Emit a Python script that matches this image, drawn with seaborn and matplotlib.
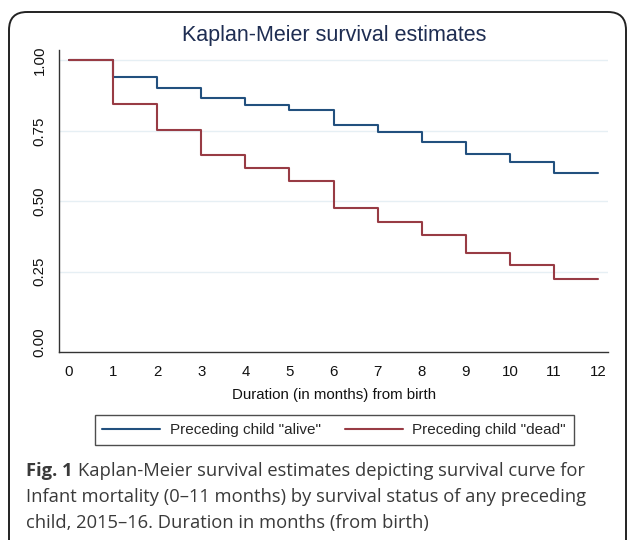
import seaborn as sns
import matplotlib.pyplot as plt
import pandas as pd
from matplotlib.patches import FancyBboxPatch

# survival estimates (value held from each month to the next)
months = list(range(0, 13))
alive = [1.00, 0.941, 0.901, 0.865, 0.842, 0.823, 0.772, 0.746, 0.712, 0.668, 0.639, 0.601, 0.601]
dead = [1.00, 0.844, 0.752, 0.665, 0.617, 0.572, 0.477, 0.428, 0.381, 0.317, 0.274, 0.223, 0.223]
groups = ['Preceding child "alive"', 'Preceding child "dead"']
colors = ["#22507e", "#983b44"]
yticks = [0.00, 0.25, 0.50, 0.75, 1.00]

df = pd.concat([
    pd.DataFrame({"month": months, "surv": alive, "group": groups[0]}),
    pd.DataFrame({"month": months, "surv": dead, "group": groups[1]}),
])

sns.set_style("white")
plt.rcParams["font.family"] = ["Liberation Sans", "DejaVu Sans"]

fig = plt.figure(figsize=(6.27, 5.4), dpi=100)

# outer rounded frame, drawn in pixel units
bg = fig.add_axes([0, 0, 1, 1])
bg.set_xlim(0, 627)
bg.set_ylim(540, 0)
bg.axis("off")
bg.add_patch(FancyBboxPatch((9, 12), 617, 560, boxstyle="round,pad=0,rounding_size=18",
                            fill=False, edgecolor="#222222", linewidth=1.4))

ax = fig.add_axes([0.094, 0.348, 0.876, 0.559])
sns.lineplot(data=df, x="month", y="surv", hue="group", palette=colors,
             drawstyle="steps-post", linewidth=1.5, ax=ax, legend=False)

ax.set_xlim(-0.23, 12.23)
ax.set_ylim(-0.035, 1.036)
ax.set_xticks(months)
ax.set_yticks(yticks)
ax.set_yticklabels([f"{v:.2f}" for v in yticks], rotation=90, va="center")
for v in yticks[1:]:
    ax.axhline(v, color="#e6eff4", linewidth=1.0, zorder=0)
ax.tick_params(axis="both", direction="out", length=4, width=1, color="#333333",
               labelsize=10.8, labelcolor="#111111", pad=5)
for s in ["top", "right"]:
    ax.spines[s].set_visible(False)
for s in ["left", "bottom"]:
    ax.spines[s].set_color("#333333")
    ax.spines[s].set_linewidth(1.0)
ax.set_xlabel("Duration (in months) from birth", fontsize=10.8, color="#111111", labelpad=7)
ax.set_ylabel("")

fig.text(0.533, 0.935, "Kaplan-Meier survival estimates", ha="center", va="center",
         fontsize=15.5, color="#1e2d52")

handles = [plt.Line2D([], [], color=c, linewidth=1.5) for c in colors]
leg = fig.legend(handles, groups, loc="center", bbox_to_anchor=(0.533, 0.2037), ncol=2,
                 frameon=True, fancybox=False, fontsize=11, handlelength=3.8,
                 columnspacing=1.6, borderpad=0.5, handletextpad=0.6, borderaxespad=0)
leg.get_frame().set_edgecolor("#222222")
leg.get_frame().set_linewidth(1.0)

cap_font = ["Open Sans", "DejaVu Sans"]
cap_color = "#3a3a3a"
cap_size = 13.2
fig_lbl = fig.text(0.0415, 0.1278, "Fig. 1", fontsize=cap_size, fontweight="bold",
                   color=cap_color, family=cap_font, va="center")
fig.canvas.draw()
bb = fig_lbl.get_window_extent().transformed(fig.transFigure.inverted())
fig.text(bb.x1 + 0.009, 0.1278, "Kaplan-Meier survival estimates depicting survival curve for",
         fontsize=cap_size, color=cap_color, family=cap_font, va="center")
fig.text(0.0415, 0.0796, "Infant mortality (0\u201311 months) by survival status of any preceding",
         fontsize=cap_size, color=cap_color, family=cap_font, va="center")
fig.text(0.0415, 0.0315, "child, 2015\u201316. Duration in months (from birth)",
         fontsize=cap_size, color=cap_color, family=cap_font, va="center")

plt.savefig("out.png", dpi=100)
plt.close()
